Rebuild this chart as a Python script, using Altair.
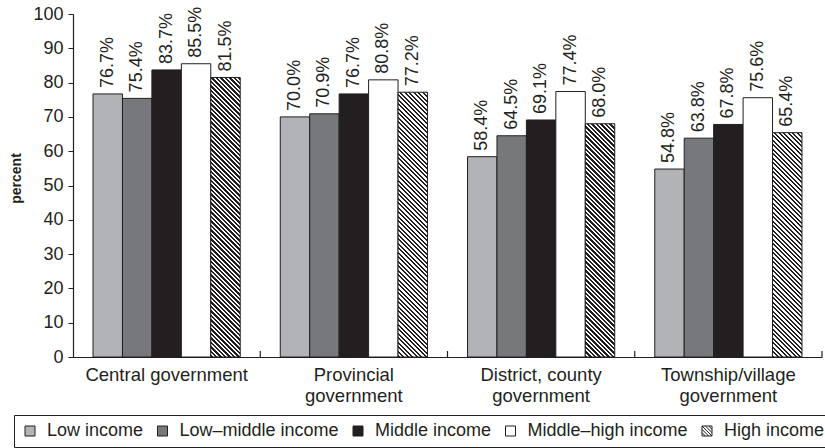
import altair as alt
import pandas as pd

# ---------------- data ----------------
categories = ["Central government", "Provincial government",
              "District, county government", "Township/village government"]
series = ["Low income", "Low–middle income", "Middle income",
          "Middle–high income", "High income"]
low_income = [76.7, 70.0, 58.4, 54.8]
low_middle_income = [75.4, 70.9, 64.5, 63.8]
middle_income = [83.7, 76.7, 69.1, 67.8]
middle_high_income = [85.5, 80.8, 77.4, 75.6]
high_income = [81.5, 77.2, 68.0, 65.4]
y_ticks = [0, 10, 20, 30, 40, 50, 60, 70, 80, 90, 100]

# ---------------- style ----------------
FONT = "Liberation Sans"
INK = "#231f20"
fills = ["#b1b3b6", "#77787b", "#231f20", "#ffffff", "#ffffff"]
W, H = 749, 343
PAD_OUTER = 0.68
Y_MAX = 100

values_by_series = [low_income, low_middle_income, middle_income,
                    middle_high_income, high_income]
rows = []
for s, vals in zip(series, values_by_series):
    for c, v in zip(categories, vals):
        rows.append({"category": c, "series": s, "value": v})
df = pd.DataFrame(rows)
df["label"] = df["value"].map(lambda v: f"{v:.1f}%")

# bar width from the scale set-up (used only to orient the hatch pattern)
band = W / len(categories)
bar_w = band / (len(series) + 2 * PAD_OUTER)


def hatch_gradient(h, w, period=4.5):
    """Diagonal '\\' stripes expressed as a linear gradient in bbox units."""
    denom = w + h * h / w
    total = w + h
    stops = []
    k = 0
    while k * period < total:
        a = k * period
        b = a + period / 2
        c = a + period
        for s, col in ((a, INK), (min(b, total), INK),
                       (min(b, total), "#ffffff"), (min(c, total), "#ffffff")):
            stops.append({"offset": round(min(s / denom, 1.0), 6), "color": col})
        k += 1
    return {"gradient": "linear", "x1": 0, "y1": 1, "x2": 1,
            "y2": 1 - h / w, "stops": stops}


x_axis = alt.Axis(title=None, labelAngle=0, labelFontSize=18.5, labelFont=FONT,
                  labelColor=INK, labelPadding=8, labelLineHeight=21,
                  ticks=False, domainColor=INK, domainWidth=1.2,
                  labelExpr="datum.label == 'Central government' ? datum.label : "
                            "[replace(datum.label, ' government', ''), 'government']")
x_scale = alt.Scale(paddingInner=0, paddingOuter=0)
X = alt.X("category:N", sort=categories, scale=x_scale, axis=x_axis)
XO = alt.XOffset("series:N", sort=series,
                 scale=alt.Scale(domain=series, paddingInner=0,
                                 paddingOuter=PAD_OUTER))
Y = alt.Y("value:Q", scale=alt.Scale(domain=[0, Y_MAX], nice=False),
          axis=alt.Axis(values=y_ticks, title="percent",
                        labelFontSize=18, labelFont=FONT, labelColor=INK,
                        labelPadding=5, tickSize=5, tickColor=INK,
                        domainColor=INK, domainWidth=1.2, grid=False))

legend = alt.Legend(title=None, orient="none", legendX=-59, legendY=401,
                    direction="horizontal", labelFontSize=18, labelFont=FONT,
                    labelColor=INK, labelLimit=400, symbolSize=100,
                    symbolStrokeWidth=1,
                    symbolOpacity=1, labelOffset=8, columnPadding=9.5,
                    padding=7, strokeColor=INK, fillColor="white")

hatch_path = ("M-1,-1H1V1H-1Z M-1,-0.33L0.33,1 M-1,0.33L-0.33,1 "
              "M-1,-1L1,1 M-0.33,-1L1,0.33 M0.33,-1L1,-0.33")

base = alt.Chart(df).encode(x=X, xOffset=XO, y=Y)

# plain bars, one layer per income group
bar_layers = []
for s, col in zip(series[:-1], fills[:-1]):
    bar_layers.append(
        base.transform_filter(alt.datum.series == s)
        .mark_bar(fill=col, stroke=INK, strokeWidth=1)
    )

# hatched bars for the high-income group
hatch_layers = []
for c, v in zip(categories, high_income):
    g = hatch_gradient(v / Y_MAX * H, bar_w)
    hatch_layers.append(
        base.transform_filter(
            (alt.datum.series == series[-1]) & (alt.datum.category == c)
        ).mark_bar(stroke=INK, strokeWidth=1, fill=g)
    )

# invisible points that carry the legend (fill + shape)
legend_pts = base.mark_point(filled=False, opacity=0, stroke=INK,
                             strokeWidth=1).encode(
    fill=alt.Fill("series:N", sort=series,
                  scale=alt.Scale(domain=series, range=fills), legend=legend),
    shape=alt.Shape("series:N", sort=series,
                    scale=alt.Scale(domain=series,
                                    range=["square"] * 4 + [hatch_path]),
                    legend=legend))

labels = base.mark_text(angle=270, align="left", baseline="middle", dx=6,
                        fontSize=18, font=FONT, color=INK).encode(text="label:N")

tick_df = pd.DataFrame({"category": categories})
ticks = alt.Chart(tick_df).mark_rule(color=INK, strokeWidth=1.2).encode(
    x=alt.X("category:N", sort=categories, scale=x_scale, axis=x_axis,
            bandPosition=1),
    y=alt.value(H), y2=alt.value(H - 6))

chart = alt.layer(*bar_layers, *hatch_layers, legend_pts, labels, ticks).properties(
    width=W, height=H,
    autosize=alt.AutoSizeParams(type="none"),
    padding={"left": 73, "top": 14, "right": 3, "bottom": 91},
).configure_view(stroke=None).configure_axisY(
    titleFont=FONT, titleFontSize=14, titleFontWeight="bold", titleColor=INK,
    titlePadding=9, titleY=164
)

chart.save("out.html", embed_options={"renderer": "svg", "actions": False})
